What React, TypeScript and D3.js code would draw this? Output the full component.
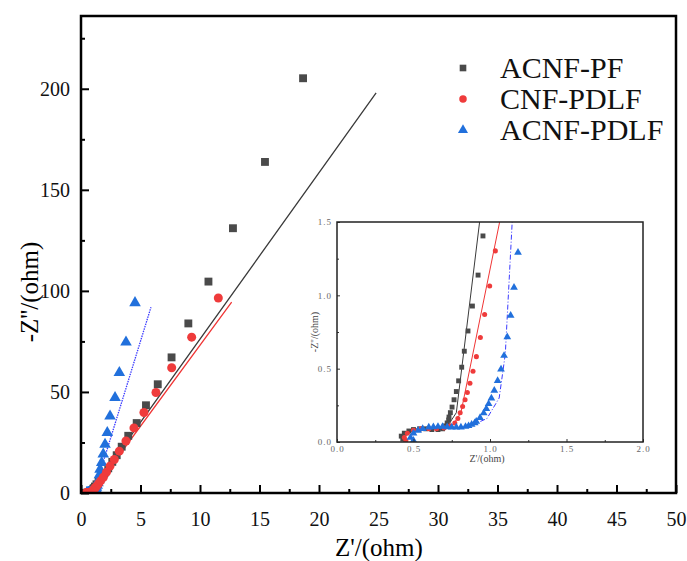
import React, { useEffect, useRef } from 'react';
import * as d3 from 'd3';

// Nyquist data, [Z', -Z''] in ohm
const acnfPf: [number, number][] = [
  [0.43, 0.02], [0.42, 0.04], [0.44, 0.06], [0.47, 0.075], [0.5, 0.085], [0.54, 0.09],
  [0.58, 0.09], [0.62, 0.085], [0.66, 0.085], [0.69, 0.09], [0.71, 0.11], [0.72, 0.13],
  [0.73, 0.15], [0.732, 0.17], [0.741, 0.2], [0.752, 0.238], [0.765, 0.288], [0.78, 0.344],
  [0.795, 0.417], [0.815, 0.51], [0.832, 0.619], [0.856, 0.757], [0.885, 0.927],
  [0.922, 1.138], [0.954, 1.405], [1.0, 1.8], [1.07, 2.4], [1.17, 3.2], [1.3, 4.3],
  [1.48, 5.7], [1.7, 7.6], [1.97, 9.8], [2.29, 12.2], [2.63, 15.4], [3.0, 18.7],
  [3.42, 22.9], [3.97, 28.3], [4.68, 34.6], [5.46, 43.4], [6.45, 53.8], [7.61, 67.1],
  [9.02, 83.9], [10.71, 104.6], [12.77, 131], [15.46, 163.8], [18.66, 205.2]
];

const cnfPdlf: [number, number][] = [
  [0.45, 0.01], [0.44, 0.03], [0.46, 0.06], [0.5, 0.08], [0.55, 0.09], [0.6, 0.09],
  [0.65, 0.09], [0.7, 0.095], [0.74, 0.11], [0.77, 0.13], [0.79, 0.16], [0.805, 0.2],
  [0.821, 0.242], [0.837, 0.288], [0.852, 0.338], [0.869, 0.401], [0.889, 0.483],
  [0.911, 0.582], [0.937, 0.712], [0.965, 0.87], [0.998, 1.063], [1.035, 1.303],
  [1.08, 1.65], [1.14, 2.1], [1.22, 2.7], [1.33, 3.5], [1.47, 4.6], [1.65, 6.0],
  [1.88, 7.8], [2.14, 10.3], [2.44, 13.3], [2.8, 16.6], [3.22, 20.7], [3.78, 25.7],
  [4.45, 32.2], [5.29, 39.8], [6.3, 49.7], [7.62, 62], [9.3, 77.1], [11.54, 96.5]
];

const acnfPdlf: [number, number][] = [
  [0.5, 0.01], [0.48, 0.03], [0.5, 0.06], [0.53, 0.078], [0.56, 0.09], [0.6, 0.1],
  [0.63, 0.103], [0.66, 0.105], [0.69, 0.105], [0.72, 0.102], [0.75, 0.1], [0.78, 0.1],
  [0.81, 0.1], [0.84, 0.105], [0.86, 0.11], [0.88, 0.12], [0.9, 0.13], [0.91, 0.14],
  [0.935, 0.165], [0.959, 0.197], [0.976, 0.227], [0.991, 0.26], [1.009, 0.299],
  [1.028, 0.351], [1.05, 0.417], [1.072, 0.496], [1.092, 0.589], [1.113, 0.716],
  [1.135, 0.863], [1.157, 1.054], [1.183, 1.292], [1.21, 1.6], [1.25, 2.1], [1.3, 2.8],
  [1.36, 3.8], [1.43, 5.0], [1.5, 6.5], [1.55, 9.0], [1.6, 11.7], [1.74, 15], [1.87, 19.2],
  [2.02, 24], [2.21, 29.9], [2.44, 38], [2.86, 47.2], [3.22, 59.5], [3.78, 74.6], [4.54, 94.1]
];

// equivalent-circuit fits
const fitPf: [number, number][] = [
  [0.44, 0.0], [0.42, 0.03], [0.45, 0.07], [0.52, 0.09], [0.6, 0.09], [0.68, 0.09],
  [0.73, 0.12], [0.78, 0.2], [0.932, 1.5], [24.8, 198]
];
const fitCnf: [number, number][] = [
  [0.46, 0.0], [0.44, 0.03], [0.47, 0.07], [0.54, 0.09], [0.62, 0.09], [0.7, 0.09],
  [0.76, 0.12], [0.81, 0.2], [1.063, 1.5], [12.66, 94.4]
];
const fitAcnf: [number, number][] = [
  [0.5, 0.0], [0.48, 0.03], [0.51, 0.07], [0.58, 0.095], [0.7, 0.1], [0.85, 0.1],
  [0.98, 0.16], [1.06, 0.3], [1.1, 0.6], [1.145, 1.5], [5.88, 91.9]
];

const seriesNames = ['ACNF-PF', 'CNF-PDLF', 'ACNF-PDLF'];
const xTicks = [0, 5, 10, 15, 20, 25, 30, 35, 40, 45, 50];
const yTicks = [0, 50, 100, 150, 200];
const insetXTicks = [0, 0.5, 1.0, 1.5, 2.0];
const insetYTicks = [0, 0.5, 1.0, 1.5];

const colors = ['#4a4a4a', '#ef3b3b', '#2170dc'];
const lineColors = ['#3a3a3a', '#f03535', '#3b3bff'];
const shapes = [d3.symbolSquare, d3.symbolCircle, d3.symbolTriangle];

const App = () => {
  const svgRef = useRef<SVGSVGElement>(null);

  useEffect(() => {
    const svg = d3.select(svgRef.current);
    svg.selectAll('*').remove();
    const font = 'Liberation Serif, Times New Roman, DejaVu Serif, serif';
    const data = [acnfPf, cnfPdlf, acnfPdlf];
    const fits = [fitPf, fitCnf, fitAcnf];

    // main plot
    const x = d3.scaleLinear().domain([0, 50]).range([81, 676]);
    const y = d3.scaleLinear().domain([0, 236]).range([493, 16]);

    svg.append('defs').append('clipPath').attr('id', 'mainClip')
      .append('rect').attr('x', 81).attr('y', 16).attr('width', 595).attr('height', 477);

    const plot = svg.append('g').attr('clip-path', 'url(#mainClip)');
    const line = d3.line<[number, number]>().x(d => x(d[0])).y(d => y(d[1]));

    fits.forEach((f, i) => {
      plot.append('path').attr('d', line(f)).attr('fill', 'none')
        .attr('stroke', lineColors[i]).attr('stroke-width', 1.3)
        .attr('stroke-dasharray', i === 2 ? '1.5,1' : null);
    });

    const mainSizes = [62, 64, 58];
    [0, 2, 1].forEach(i => {
      plot.selectAll(null).data(data[i]).enter().append('path')
        .attr('d', d3.symbol().type(shapes[i]).size(mainSizes[i])())
        .attr('transform', d => `translate(${x(d[0])},${y(d[1])})`)
        .attr('fill', colors[i]);
    });

    // axes
    const xAxis = svg.append('g').attr('transform', 'translate(0,493)')
      .call(d3.axisBottom(x).tickValues(xTicks).tickSize(-8).tickPadding(19).tickFormat(d3.format('d')));
    svg.append('g').attr('transform', 'translate(0,493)')
      .call(d3.axisBottom(x).tickValues(d3.range(2.5, 50, 5)).tickSize(-4).tickFormat(() => ''));
    const yAxis = svg.append('g').attr('transform', 'translate(81,0)')
      .call(d3.axisLeft(y).tickValues(yTicks).tickSize(-8).tickPadding(11).tickFormat(d3.format('d')));
    svg.append('g').attr('transform', 'translate(81,0)')
      .call(d3.axisLeft(y).tickValues(d3.range(25, 236, 50)).tickSize(-4).tickFormat(() => ''));
    svg.selectAll('.domain').remove();
    svg.selectAll('.tick line').attr('stroke', '#000').attr('stroke-width', 2);
    svg.selectAll('g').attr('font-family', font);
    [xAxis, yAxis].forEach(a => a.selectAll('text')
      .attr('font-family', font).attr('font-size', 20).attr('fill', '#111'));

    svg.append('rect').attr('x', 81).attr('y', 16).attr('width', 595).attr('height', 477)
      .attr('fill', 'none').attr('stroke', '#000').attr('stroke-width', 2.5);

    svg.append('text').attr('x', 379).attr('y', 556).attr('text-anchor', 'middle')
      .attr('font-family', font).attr('font-size', 25).text("Z'/(ohm)");
    svg.append('text').attr('transform', 'translate(38,292) rotate(-90)').attr('text-anchor', 'middle')
      .attr('font-family', font).attr('font-size', 25).text("-Z''/(ohm)");

    // legend
    seriesNames.forEach((name, i) => {
      const ly = 68 + i * 31;
      svg.append('path').attr('d', d3.symbol().type(shapes[i]).size(44)())
        .attr('transform', `translate(463,${ly})`).attr('fill', colors[i]);
      svg.append('text').attr('x', 500).attr('y', ly + 10)
        .attr('font-family', font).attr('font-size', 30).attr('fill', '#111').text(name);
    });

    // inset
    const ix = d3.scaleLinear().domain([0, 2]).range([337, 643]);
    const iy = d3.scaleLinear().domain([0, 1.5]).range([442, 222]);
    const inset = svg.append('g');
    inset.append('rect').attr('x', 337).attr('y', 222).attr('width', 306).attr('height', 220).attr('fill', '#fff');
    svg.select('defs').append('clipPath').attr('id', 'insetClip')
      .append('rect').attr('x', 337).attr('y', 222).attr('width', 306).attr('height', 220);
    const iplot = inset.append('g').attr('clip-path', 'url(#insetClip)');
    const iline = d3.line<[number, number]>().x(d => ix(d[0])).y(d => iy(d[1]));

    fits.forEach((f, i) => {
      iplot.append('path').attr('d', iline(f)).attr('fill', 'none')
        .attr('stroke', lineColors[i]).attr('stroke-width', 1)
        .attr('stroke-dasharray', i === 2 ? '5,2,1,2' : null);
    });
    const insetSizes = [24, 20, 26];
    [0, 1, 2].forEach(i => {
      iplot.selectAll(null).data(data[i]).enter().append('path')
        .attr('d', d3.symbol().type(shapes[i]).size(insetSizes[i])())
        .attr('transform', d => `translate(${ix(d[0])},${iy(d[1])})`)
        .attr('fill', colors[i]);
    });

    const fmt = d3.format('.1f');
    const ixAxis = inset.append('g').attr('transform', 'translate(0,442)')
      .call(d3.axisBottom(ix).tickValues(insetXTicks).tickSize(-3).tickPadding(4).tickFormat(d => fmt(d as number)));
    inset.append('g').attr('transform', 'translate(0,442)')
      .call(d3.axisBottom(ix).tickValues([0.25, 0.75, 1.25, 1.75]).tickSize(-2).tickFormat(() => ''));
    const iyAxis = inset.append('g').attr('transform', 'translate(337,0)')
      .call(d3.axisLeft(iy).tickValues(insetYTicks).tickSize(-3).tickPadding(5).tickFormat(d => fmt(d as number)));
    inset.append('g').attr('transform', 'translate(337,0)')
      .call(d3.axisLeft(iy).tickValues([0.25, 0.75, 1.25]).tickSize(-2).tickFormat(() => ''));
    inset.selectAll('.domain').remove();
    inset.selectAll('.tick line').attr('stroke', '#333').attr('stroke-width', 1);
    [ixAxis, iyAxis].forEach(a => a.selectAll('text')
      .attr('font-family', font).attr('font-size', 9).attr('letter-spacing', 1).attr('fill', '#666'));

    inset.append('rect').attr('x', 337).attr('y', 222).attr('width', 306).attr('height', 220)
      .attr('fill', 'none').attr('stroke', '#222').attr('stroke-width', 1.5);
    inset.append('text').attr('x', 487).attr('y', 462).attr('text-anchor', 'middle')
      .attr('font-family', font).attr('font-size', 10).attr('fill', '#444').text("Z'/(ohm)");
    inset.append('text').attr('transform', 'translate(318,332) rotate(-90)').attr('text-anchor', 'middle')
      .attr('font-family', font).attr('font-size', 10).attr('fill', '#444').text("-Z''/(ohm)");
  }, []);

  return (
    <svg ref={svgRef} width={687} height={561}
      style={{ position: 'absolute', left: 0, top: 0, background: '#fff' }} />
  );
};

export default App;
